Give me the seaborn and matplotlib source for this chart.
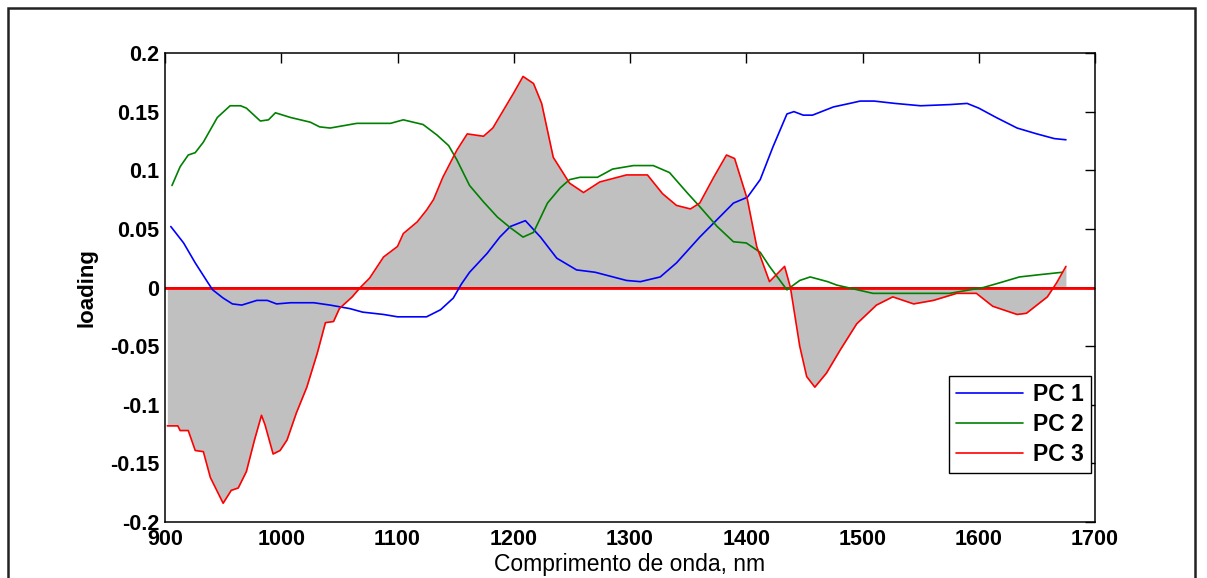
import numpy as np
import pandas as pd
import matplotlib
matplotlib.use("Agg")
import matplotlib.pyplot as plt
from matplotlib.patches import Rectangle
from matplotlib.ticker import FuncFormatter
import seaborn as sns

# ---- data ----
wl_pc1 = [905, 916, 926, 937, 941, 950, 958, 966, 979, 988, 996, 1008, 1028, 1042, 1059,
          1070, 1088, 1100, 1125, 1137, 1148, 1155, 1162, 1177, 1188, 1197, 1210, 1223,
          1237, 1254, 1270, 1297, 1309, 1326, 1340, 1360, 1372, 1389, 1401, 1412, 1423,
          1435, 1441, 1449, 1457, 1475, 1489, 1498, 1510, 1528, 1550, 1575, 1590, 1600,
          1615, 1633, 1650, 1665, 1675]
pc1 = [0.052, 0.038, 0.021, 0.004, -0.002, -0.009, -0.014, -0.015, -0.011, -0.011, -0.014,
       -0.013, -0.013, -0.015, -0.018, -0.021, -0.023, -0.025, -0.025, -0.019, -0.009, 0.003,
       0.013, 0.029, 0.043, 0.052, 0.057, 0.043, 0.025, 0.015, 0.013, 0.006, 0.005, 0.009,
       0.021, 0.043, 0.055, 0.072, 0.077, 0.092, 0.12, 0.148, 0.15, 0.147, 0.147, 0.154,
       0.157, 0.159, 0.159, 0.157, 0.155, 0.156, 0.157, 0.153, 0.145, 0.136, 0.131, 0.127,
       0.126]

wl_pc2 = [906, 913, 920, 926, 933, 945, 956, 965, 970, 982, 989, 995, 1008, 1025, 1033,
          1042, 1065, 1094, 1105, 1122, 1134, 1144, 1151, 1162, 1174, 1186, 1197, 1208,
          1217, 1229, 1240, 1248, 1257, 1272, 1285, 1303, 1320, 1334, 1349, 1360, 1375,
          1389, 1400, 1412, 1420, 1429, 1435, 1446, 1455, 1470, 1478, 1487, 1509, 1538,
          1575, 1604, 1618, 1635, 1653, 1672]
pc2 = [0.087, 0.103, 0.113, 0.115, 0.124, 0.145, 0.155, 0.155, 0.153, 0.142, 0.143, 0.149,
       0.145, 0.141, 0.137, 0.136, 0.14, 0.14, 0.143, 0.139, 0.13, 0.121, 0.109, 0.087,
       0.073, 0.06, 0.051, 0.043, 0.047, 0.072, 0.085, 0.092, 0.094, 0.094, 0.101, 0.104,
       0.104, 0.098, 0.081, 0.069, 0.052, 0.039, 0.038, 0.030, 0.018, 0.006, -0.002, 0.006,
       0.009, 0.005, 0.002, 0.0, -0.005, -0.005, -0.005, 0.0, 0.004, 0.009, 0.011, 0.013]

wl_pc3 = [902, 911, 913, 920, 926, 933, 939, 950, 957, 963, 970, 977, 983, 986, 993, 999,
          1005, 1013, 1022, 1031, 1038, 1045, 1050, 1061, 1068, 1076, 1088, 1100, 1105,
          1117, 1125, 1131, 1139, 1151, 1160, 1174, 1182, 1191, 1200, 1208, 1217, 1224,
          1234, 1248, 1260, 1274, 1297, 1315, 1328, 1340, 1352, 1360, 1372, 1383, 1390,
          1401, 1409, 1420, 1426, 1433, 1438, 1446, 1452, 1459, 1469, 1481, 1495, 1512,
          1526, 1544, 1561, 1581, 1598, 1612, 1633, 1641, 1659, 1667, 1675]
pc3 = [-0.118, -0.118, -0.122, -0.122, -0.139, -0.140, -0.162, -0.184, -0.173, -0.171,
       -0.157, -0.13, -0.109, -0.117, -0.142, -0.139, -0.13, -0.107, -0.085, -0.056, -0.030,
       -0.029, -0.018, -0.008, 0.0, 0.008, 0.026, 0.035, 0.046, 0.056, 0.066, 0.075, 0.094,
       0.117, 0.131, 0.129, 0.136, 0.151, 0.166, 0.18, 0.174, 0.157, 0.111, 0.089, 0.081,
       0.09, 0.096, 0.096, 0.080, 0.07, 0.067, 0.072, 0.094, 0.113, 0.11, 0.075, 0.035,
       0.005, 0.011, 0.018, 0.0, -0.050, -0.076, -0.085, -0.073, -0.053, -0.031, -0.015,
       -0.008, -0.014, -0.011, -0.005, -0.005, -0.016, -0.023, -0.022, -0.008, 0.004, 0.018]

series_names = ["PC 1", "PC 2", "PC 3"]
series_colors = ["#0000ff", "#008000", "#ff0000"]
x_ticks = [900, 1000, 1100, 1200, 1300, 1400, 1500, 1600, 1700]
y_ticks = [-0.2, -0.15, -0.1, -0.05, 0, 0.05, 0.1, 0.15, 0.2]

# ---- style ----
sns.set_style("white")
plt.rcParams["font.family"] = ["Liberation Sans", "DejaVu Sans"]
plt.rcParams["axes.unicode_minus"] = False
plt.rcParams["text.color"] = "black"
plt.rcParams["axes.labelcolor"] = "black"

fig = plt.figure(figsize=(12.07, 5.78), dpi=100)
ax = fig.add_axes([165 / 1207, 1 - 522 / 578, 930 / 1207, 469 / 578])

# shaded area under PC 3
ax.fill_between(wl_pc3, pc3, 0, color="#c0c0c0", linewidth=0, interpolate=True, zorder=1)
ax.axhline(0, color="black", lw=1.2, zorder=2)
ax.axhline(0, color="#ff0000", lw=2.0, zorder=2.5)

df = pd.concat([
    pd.DataFrame({"wl": w, "loading": v, "series": n})
    for w, v, n in zip([wl_pc1, wl_pc2, wl_pc3], [pc1, pc2, pc3], series_names)
])
sns.lineplot(data=df, x="wl", y="loading", hue="series", hue_order=series_names,
             palette=series_colors, linewidth=1.2, ax=ax, sort=True,
             estimator=None, zorder=3)

ax.set_xlim(900, 1700)
ax.set_ylim(-0.2, 0.2)
ax.set_xticks(x_ticks)
ax.set_yticks(y_ticks)
ax.yaxis.set_major_formatter(FuncFormatter(lambda v, p: "%g" % round(v, 3)))
ax.tick_params(direction="in", length=7, width=1, top=True, right=True,
               labelsize=15.5, colors="black", pad=4)
ax.tick_params(axis="x", pad=5)
for lab in ax.get_xticklabels() + ax.get_yticklabels():
    lab.set_fontweight("bold")
for s in ax.spines.values():
    s.set_visible(True)
    s.set_color("black")
    s.set_linewidth(1.1)

ax.set_xlabel("Comprimento de onda, nm", fontsize=16.5, labelpad=2, color="black")
ax.set_ylabel("loading", fontsize=16, fontweight="bold", labelpad=9, color="black")

leg = ax.legend(loc="upper left", bbox_to_anchor=((949 - 165) / 930, (522 - 376) / 469),
                borderaxespad=0, frameon=True, fancybox=False, framealpha=1,
                edgecolor="black", prop={"size": 16.5, "weight": "bold"},
                handlelength=2.9, handletextpad=0.45, labelspacing=0.3,
                borderpad=0.32, labelcolor="black")
leg.get_frame().set_linewidth(1.0)
for line in leg.get_lines():
    line.set_linewidth(1.2)

# figure frame
fig.patches.append(Rectangle((8 / 1207, -0.1), 1187 / 1207, 1.1 - 8 / 578,
                             transform=fig.transFigure, fill=False,
                             edgecolor="#222222", linewidth=1.8, clip_on=False))

fig.savefig("out.png", dpi=100)
